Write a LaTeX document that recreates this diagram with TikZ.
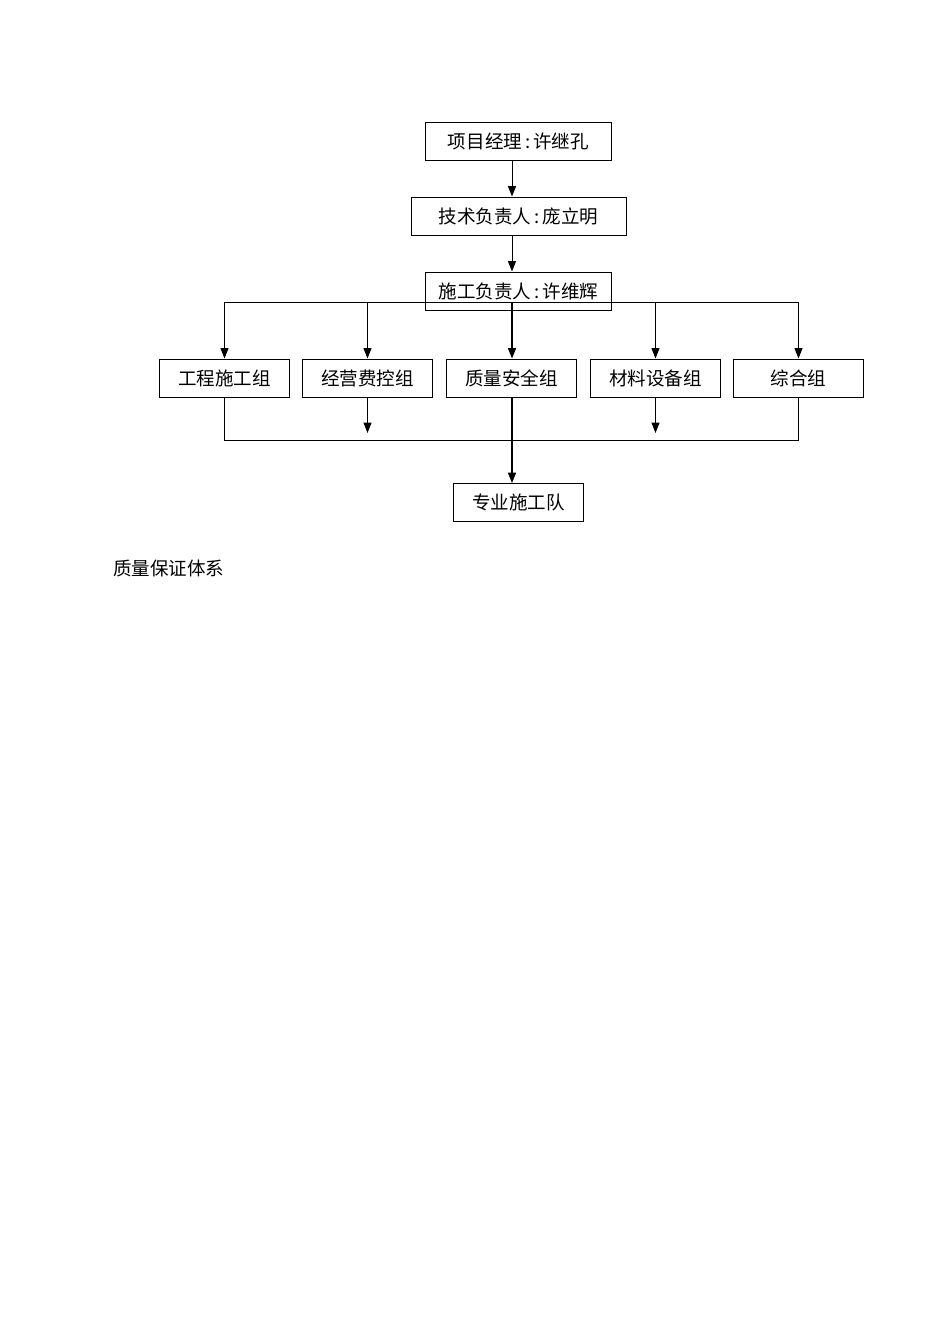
\documentclass[tikz,border=0pt]{standalone}
\usepackage{fontspec}
\setmainfont{Noto Sans CJK SC}
\usetikzlibrary{arrows.meta}
\tikzset{
  px/.style={x=0.626pt,y=-0.626pt},
  box/.style={draw,line width=0.6pt,inner sep=0pt,minimum height=23.8pt,font=\fontsize{11.6pt}{13pt}\selectfont},
  wide/.style={box,minimum width=117pt},
  grp/.style={box,minimum width=80.8pt},
  conn/.style={line width=0.6pt},
  arr/.style={conn,-{Triangle[length=6.5pt,width=5pt]}}
}
\begin{document}
\begin{tikzpicture}[px]
\useasboundingbox (0,0) rectangle (950,1344);
\coordinate (spine) at (512,0);
\node[wide] (pm) at (518.5,141) {项目经理\,:\,许继孔};
\node[box,minimum width=134.6pt] (tech) at (518.5,216) {技术负责人\,:\,庞立明};
\node[wide] (cons) at (518.5,291) {施工负责人\,:\,许维辉};
\node[grp] (g1) at (224.5,378) {工程施工组};
\node[grp] (g2) at (367.5,378) {经营费控组};
\node[grp] (g3) at (511.5,378) {质量安全组};
\node[grp] (g4) at (655.5,378) {材料设备组};
\node[grp] (g5) at (798.5,378) {综合组};
\node[grp] (team) at (518.5,502.5) {专业施工队};
\node[anchor=west,inner sep=0pt,font=\fontsize{11.6pt}{13pt}\selectfont] (cap) at (113,568) {质量保证体系};
\coordinate (bar) at (0,302);
\coordinate (low) at (0,440);
\coordinate (tip) at (0,433);
\draw[arr] (pm.south -| spine) -- (tech.north -| spine);
\draw[arr] (tech.south -| spine) -- (cons.north -| spine);
\draw[conn] (bar -| g1) -- (bar -| g5);
\foreach \g in {g1,g2,g4,g5} \draw[arr] (bar -| \g) -- (\g.north);
\draw[arr,line width=1pt] (bar -| spine) -- (g3.north -| spine);
\draw[conn] (g1.south) -- (low -| g1) -- (low -| g5) -- (g5.south);
\draw[arr] (g2.south) -- (tip -| g2);
\draw[arr] (g4.south) -- (tip -| g4);
\draw[arr,line width=0.9pt] (g3.south -| spine) -- (team.north -| spine);
\end{tikzpicture}
\end{document}
